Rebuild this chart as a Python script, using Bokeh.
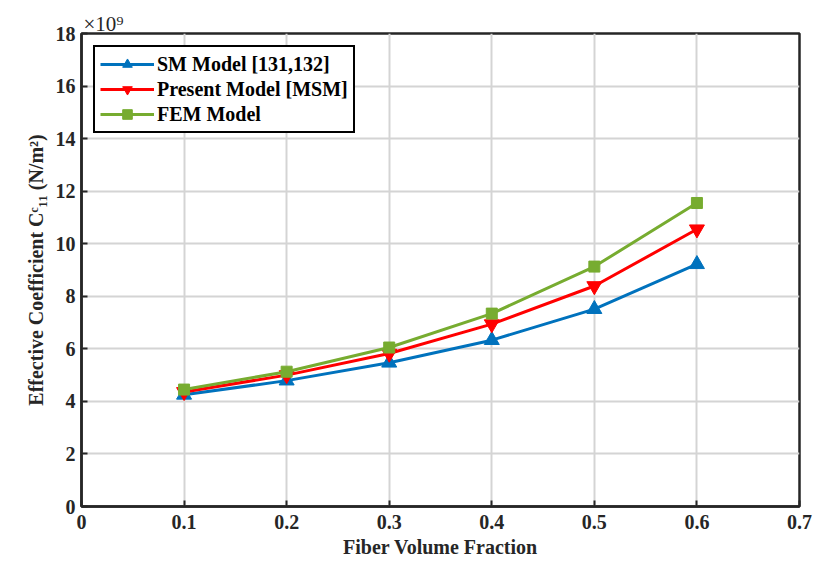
from bokeh.plotting import figure
from bokeh.models import (Range1d, FixedTicker, Legend, LegendItem, Title)
from bokeh.embed import file_html
from bokeh.resources import INLINE

fraction = [0.1, 0.2, 0.3, 0.4, 0.5, 0.6]
sm_model = [4.25, 4.79, 5.47, 6.33, 7.51, 9.22]        # x 10^9 N/m^2
present_model = [4.36, 5.0, 5.82, 6.94, 8.39, 10.55]
fem_model = [4.45, 5.13, 6.05, 7.34, 9.13, 11.55]
x_ticks = [0, 0.1, 0.2, 0.3, 0.4, 0.5, 0.6, 0.7]
y_ticks = [0, 2, 4, 6, 8, 10, 12, 14, 16, 18]

FONT = "Liberation Serif"
INK = "#262626"

p = figure(width=816, height=564, output_backend="svg", toolbar_location=None,
           x_range=Range1d(0, 0.7), y_range=Range1d(0, 18),
           min_border_left=81, min_border_right=17, min_border_top=33, min_border_bottom=58)
p.background_fill_color = "white"
p.border_fill_color = "white"
p.outline_line_color = INK
p.outline_line_width = 2.5

xa = p.xaxis[0]
ya = p.yaxis[0]
for ax in (xa, ya):
    ax.major_label_text_font = FONT
    ax.major_label_text_font_style = "bold"
    ax.major_label_text_font_size = "20px"
    ax.major_label_text_color = INK
    ax.axis_label_text_font = FONT
    ax.axis_label_text_font_style = "bold"
    ax.axis_label_text_color = INK
    ax.axis_line_color = INK
    ax.axis_line_width = 2.5
    ax.major_tick_in = 6
    ax.major_tick_out = 0
    ax.major_tick_line_width = 2
    ax.major_tick_line_color = INK
    ax.minor_tick_line_color = None

xa.ticker = FixedTicker(ticks=x_ticks)
ya.ticker = FixedTicker(ticks=y_ticks)
xa.major_label_overrides = {0: "0"}
xa.axis_label = "Fiber Volume Fraction"
ya.axis_label = "Effective Coefficient C\u1d9c\u2081\u2081 (N/m\u00b2)"
xa.axis_label_text_font_size = "20px"
ya.axis_label_text_font_size = "20px"
xa.major_label_standoff = 8
ya.major_label_standoff = 6
xa.axis_label_standoff = 4
ya.axis_label_standoff = 6

p.xgrid.ticker = FixedTicker(ticks=x_ticks)
p.ygrid.ticker = FixedTicker(ticks=y_ticks)
p.grid.grid_line_color = "#d4d4d4"
p.grid.grid_line_width = 2

p.add_layout(Title(text="\u00d710\u2079", align="left", text_font=FONT,
                   text_font_size="21px", text_font_style="normal",
                   text_color=INK, offset=2, standoff=-4), "above")

series = [
    ("SM Model [131,132]", sm_model, "#0072BD", "triangle", 15),
    ("Present Model [MSM]", present_model, "#FF0000", "inverted_triangle", 15),
    ("FEM Model", fem_model, "#77AC30", "square", 11),
]
items = []
for name, vals, color, marker, size in series:
    r1 = p.line(fraction, vals, line_color=color, line_width=3)
    r2 = p.scatter(fraction, vals, marker=marker, size=size, fill_color=color,
                   line_color=color)
    items.append(LegendItem(label=name, renderers=[r1, r2]))

legend = Legend(items=items, location="top_left")
legend.label_text_font = FONT
legend.label_text_font_style = "bold"
legend.label_text_font_size = "20px"
legend.label_text_color = "#000000"
legend.border_line_color = "#000000"
legend.border_line_alpha = 1
legend.border_line_width = 2.5
legend.glyph_width = 54
legend.glyph_height = 24
legend.label_height = 24
legend.spacing = 1
legend.padding = 5
legend.margin = 12
legend.label_standoff = 3
legend.background_fill_alpha = 1
p.add_layout(legend)

open("out.html", "w").write(file_html(p, INLINE))
